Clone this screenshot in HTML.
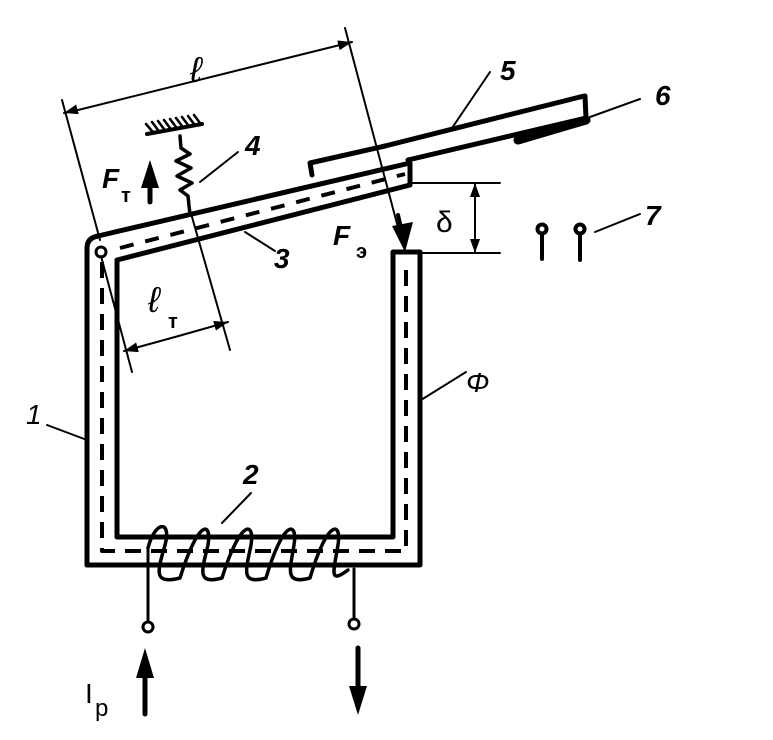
<!DOCTYPE html>
<html><head><meta charset="utf-8"><style>
html,body{margin:0;padding:0;background:#fff;}
svg{display:block;}
text{font-family:"Liberation Sans",sans-serif;fill:#000;}
</style></head><body>
<svg width="773" height="740" viewBox="0 0 773 740" xmlns="http://www.w3.org/2000/svg">
<defs>
<marker id="ah" viewBox="0 0 14 10" refX="14" refY="5" markerWidth="14" markerHeight="10" orient="auto" markerUnits="userSpaceOnUse"><path d="M0,0 L14,5 L0,10 Z" fill="#000"/></marker>
</defs>
<g fill="none" stroke="#000" stroke-linecap="round" stroke-linejoin="round">
<path d="M87,565 L87,248 Q87,238 98,236" stroke-width="5"/>
<path d="M87,565 L420,565 L420,252 L393,252 L393,537 L117,537 L117,262" stroke-width="5"/>
<path d="M102,262 L102,551 L406,551 L406,262" stroke-width="4" stroke-dasharray="16,10" stroke-linecap="butt"/>
<path d="M98,236 L410,163 L410,185 L117,260" stroke-width="5"/>
<path d="M120,248 L405,174" stroke-width="4" stroke-dasharray="14,12" stroke-linecap="butt"/>
<circle cx="101" cy="252" r="5" stroke-width="3" fill="#fff"/>
<path d="M312,175 L310,163 L385,146" stroke-width="5"/>
<path d="M385,146 L580,97 L585,96 L586,118 L408,160" stroke-width="5"/>
<path d="M518,140 L586,120" stroke-width="9"/>
<path d="M590,117 L640,99" stroke-width="2"/>
<path d="M452,128 L490,72" stroke-width="2"/>
<path d="M62,100 L100,240" stroke-width="2"/>
<path d="M345,28 L400,235" stroke-width="2"/>
<path d="M75,110 L64,113" stroke-width="2" marker-end="url(#ah)"/>
<path d="M70,112 L352,42" stroke-width="2" marker-end="url(#ah)"/>
<path d="M410,183 L500,183 M420,253 L500,253" stroke-width="2"/>
<path d="M475,218 L475,183" stroke-width="2" marker-end="url(#ah)"/>
<path d="M475,218 L475,253" stroke-width="2" marker-end="url(#ah)"/>
<circle cx="542" cy="229" r="4.5" stroke-width="4"/>
<path d="M542,234 L542,259" stroke-width="4"/>
<circle cx="580" cy="229" r="4.5" stroke-width="4"/>
<path d="M580,234 L580,260" stroke-width="4"/>
<path d="M595,232 L640,214" stroke-width="2"/>
<path d="M147,134 L202,124" stroke-width="4"/>
<path d="M152,131 L146,124 M158,130 L152,122 M164,129 L158,121 M170,128 L164,120 M176,127 L170,119 M182,126 L176,118 M188,125 L182,117 M194,124 L188,116 M200,123 L194,115" stroke-width="2.5"/>
<path d="M180,136 L181,148 L190,154 L176,161 L191,168 L177,176 L192,183 L180,190 L188,196 L190,215" stroke-width="3.5"/>
<path d="M200,182 L238,152" stroke-width="2"/>
<path d="M245,232 L275,251" stroke-width="2"/>
<path d="M101,256 L132,372" stroke-width="2"/>
<path d="M190,210 L230,350" stroke-width="2"/>
<path d="M175,337 L124,351" stroke-width="2" marker-end="url(#ah)"/>
<path d="M175,337 L228,322" stroke-width="2" marker-end="url(#ah)"/>
<path d="M47,425 L87,440" stroke-width="2"/>
<path d="M421,400 L466,372" stroke-width="2"/>
<path d="M251,493 L222,523" stroke-width="2"/>
<path d="M148,548 C155,520 172,520 165,545 C158,570 152,585 180,578 C198,520 212,520 208,545 C202,570 196,585 222,578 C240,520 255,520 251,545 C246,570 240,585 266,578 C283,520 298,520 294,545 C290,570 284,585 310,578 C327,520 342,520 338,545 C334,570 328,585 348,570" stroke-width="3.5"/>
<path d="M148,550 L148,622" stroke-width="3"/>
<circle cx="148" cy="627" r="5" stroke-width="3"/>
<path d="M354,569 L354,617" stroke-width="3"/>
<circle cx="354" cy="624" r="5" stroke-width="3"/>
<path d="M150,202 L150,180" stroke-width="5"/>
<path d="M398,215 L402,232" stroke-width="4"/>
<path d="M145,714 L145,670" stroke-width="5"/>
<path d="M358,648 L358,692" stroke-width="5"/>
</g>
<g fill="#000">
<polygon points="150,160 141,188 159,188"/>
<polygon points="405,252 392,226 413,222"/>
<polygon points="145,648 136,678 154,678"/>
<polygon points="358,715 349,686 367,686"/>
</g>
<g font-size="28" font-weight="bold">
<text x="190" y="82" font-style="italic" font-weight="normal" font-size="36">ℓ</text>
<text x="500" y="80" font-style="italic">5</text>
<text x="655" y="105" font-style="italic">6</text>
<text x="245" y="155" font-style="italic">4</text>
<text x="102" y="188" font-style="italic">F</text>
<text x="121" y="202" font-size="20">т</text>
<text x="274" y="268" font-style="italic">3</text>
<text x="333" y="245" font-style="italic">F</text>
<text x="356" y="258" font-size="20">э</text>
<text x="436" y="232" font-family="Liberation Serif" font-weight="normal" font-size="30">δ</text>
<text x="645" y="225" font-style="italic">7</text>
<text x="148" y="312" font-style="italic" font-weight="normal" font-size="36">ℓ</text>
<text x="168" y="328" font-size="20">т</text>
<text x="466" y="392" font-style="italic" font-weight="normal">Φ</text>
<text x="26" y="424" font-style="italic" font-weight="normal">1</text>
<text x="243" y="484" font-style="italic">2</text>
<text x="85" y="703" font-family="Liberation Serif" font-weight="normal">I</text>
<text x="95" y="716" font-family="Liberation Serif" font-weight="normal" font-size="24">p</text>
</g>
</svg>
</body></html>
